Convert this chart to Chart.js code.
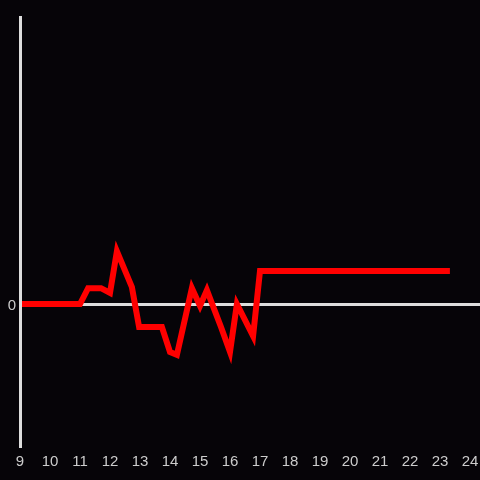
<!DOCTYPE html>
<html>
<head>
<meta charset="utf-8">
<script src="https://cdn.jsdelivr.net/npm/chart.js@4/dist/chart.umd.min.js"></script>
<style>
  html, body { margin: 0; padding: 0; background: #060408; }
  #wrap { width: 480px; height: 480px; }
</style>
</head>
<body>
<div id="wrap"><canvas id="c"></canvas></div>
<script>
const hours = [9, 11, 11.27, 11.7, 12, 12.23, 12.73, 12.97, 13.73, 14, 14.23, 14.73, 15, 15.23, 15.7, 16, 16.23, 16.77, 17, 23.23];
const values = [0, 0, 3.3, 3.3, 2.3, 11, 3.5, -4.8, -4.8, -10, -10.6, 3.3, -0.4, 2.9, -4.8, -10, 0, -6.7, 6.9, 6.9];
const xTicks = [9, 10, 11, 12, 13, 14, 15, 16, 17, 18, 19, 20, 21, 22, 23, 24];
const yTicks = [0];

const axisColor = '#dddddd';

// y axis line goes over the series, the zero line stays under it
const axisOnTop = {
  id: 'axisOnTop',
  afterDatasetsDraw(chart) {
    const { ctx, chartArea } = chart;
    ctx.save();
    ctx.strokeStyle = axisColor;
    ctx.lineWidth = 3;
    ctx.beginPath();
    ctx.moveTo(chartArea.left + 0.5, chartArea.top);
    ctx.lineTo(chartArea.left + 0.5, chartArea.bottom);
    ctx.stroke();
    ctx.restore();
  },
};

new Chart(document.getElementById('c'), {
  type: 'line',
  data: {
    datasets: [{
      data: hours.map((h, i) => ({ x: h, y: values[i] })),
      borderColor: '#ff0000',
      borderWidth: 6,
      borderCapStyle: 'square',
      pointRadius: 0,
      tension: 0,
      fill: false,
    }],
  },
  options: {
    responsive: true,
    maintainAspectRatio: false,
    animation: false,
    layout: { padding: { top: 16, right: 0, left: 0, bottom: 0 } },
    plugins: { legend: { display: false }, tooltip: { enabled: false } },
    scales: {
      x: {
        type: 'linear',
        min: 9,
        max: 24 + 1 / 3,
        afterBuildTicks: (scale) => { scale.ticks = xTicks.map(v => ({ value: v })); },
        afterFit: (scale) => {
          scale.height = 32;
          scale.paddingLeft = 0;
          scale.paddingRight = 0;
        },
        grid: { display: false, drawTicks: false },
        border: { display: false },
        ticks: {
          color: '#cccccc',
          font: { family: 'Liberation Sans', size: 15 },
          padding: 5,
          maxRotation: 0,
          autoSkip: false,
        },
      },
      y: {
        min: -30,
        max: 60,
        afterBuildTicks: (scale) => { scale.ticks = yTicks.map(v => ({ value: v })); },
        afterFit: (scale) => { scale.width = 20; },
        grid: {
          drawTicks: false,
          color: (c) => (c.tick && c.tick.value === 0 ? axisColor : 'rgba(0,0,0,0)'),
          lineWidth: 3,
        },
        border: { display: false },
        ticks: {
          color: '#cccccc',
          font: { family: 'Liberation Sans', size: 15 },
          padding: 4,
          labelOffset: 2,
        },
      },
    },
  },
  plugins: [axisOnTop],
});
</script>
</body>
</html>
